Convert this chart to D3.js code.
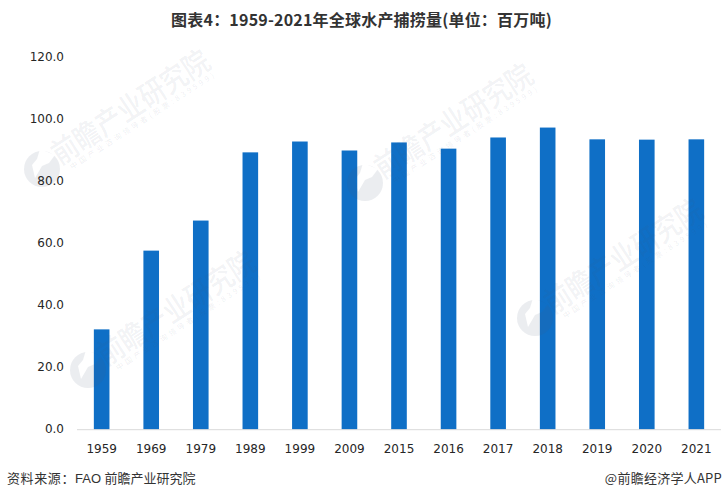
<!DOCTYPE html>
<html><head><meta charset="utf-8">
<script src="https://cdn.jsdelivr.net/npm/d3@7"></script>
<style>html,body{margin:0;padding:0;background:#fff}svg{display:block}</style>
</head><body><svg id="c" width="723" height="499"></svg>
<script>
const categories=["1959","1969","1979","1989","1999","2009","2015","2016","2017","2018","2019","2020","2021"];
const values=[32.3,57.7,67.4,89.4,92.9,90.0,92.6,90.6,94.2,97.4,93.6,93.5,93.6];
const yTicks=[0,20,40,60,80,100,120];
const watermarks=[[42,169],[365,183],[535,318],[88,370]];
const svg=d3.select("#c");
const font="'Noto Sans CJK SC','DejaVu Sans',sans-serif";
const x=d3.scaleBand().domain(categories).range([77,721]).paddingInner(0.685).paddingOuter(0.34);
const y=d3.scaleLinear().domain([0,120]).range([429.5,57.5]);

svg.selectAll("rect.bar").data(values).join("rect").attr("class","bar")
  .attr("x",(d,i)=>x(categories[i])).attr("width",x.bandwidth())
  .attr("y",d=>y(d)).attr("height",d=>y(0)-y(d)).attr("fill","#0f6fc6");

svg.append("line").attr("x1",77).attr("x2",721).attr("y1",y(0)+0.2).attr("y2",y(0)+0.2).attr("stroke","#d9d9d9").attr("stroke-width",1);

const defs=svg.append("defs");
const mask=defs.append("mask").attr("id","logoCut").attr("maskUnits","userSpaceOnUse")
  .attr("x",-25).attr("y",-25).attr("width",50).attr("height",50);
mask.append("rect").attr("x",-25).attr("y",-25).attr("width",50).attr("height",50).attr("fill","#fff");
mask.append("path").attr("d","M-2,-20L13,-14L7,-6L0,-3L-7,9L-10,-4L-5,-10Z").attr("fill","#000");

const wm=svg.append("g");
watermarks.forEach(([wx,wy])=>{
  wm.append("circle").attr("transform",`translate(${wx},${wy})`).attr("r",18)
    .attr("fill","#4a5a78").attr("fill-opacity",0.11).attr("mask","url(#logoCut)");
  const g=wm.append("g").attr("transform",`translate(${wx},${wy}) rotate(-33)`);
  g.append("text").attr("transform","translate(17,7) scale(1,1.15)").attr("font-family",font).attr("font-size",26).attr("font-weight",500)
    .attr("fill","#4a5a70").attr("fill-opacity",0.085).text("前瞻产业研究院");
  g.append("text").attr("x",25).attr("y",17).attr("font-family",font).attr("font-size",7.5)
    .attr("textLength",170).attr("lengthAdjust","spacing")
    .attr("fill","#4a5a70").attr("fill-opacity",0.1).text("中国产业咨询领导者(股票:839599)");
});

const yAxis=d3.axisLeft(y).tickValues(yTicks).tickFormat(d3.format(".1f")).tickSize(0).tickPadding(0);
const ya=svg.append("g").attr("transform","translate(64,-0.5)").call(yAxis);
ya.select(".domain").remove();
ya.selectAll("text").attr("font-family","'DejaVu Sans',sans-serif").attr("font-size",12).attr("fill","#262626");

const xAxis=d3.axisBottom(x).tickSize(0).tickPadding(0);
const xa=svg.append("g").attr("transform","translate(0,444)").call(xAxis);
xa.select(".domain").remove();
xa.selectAll("text").attr("font-family","'DejaVu Sans',sans-serif").attr("font-size",12).attr("fill","#262626");

svg.append("text").attr("x",361.5).attr("y",26).attr("text-anchor","middle").attr("font-family",font)
  .attr("font-size",16).attr("font-weight",700).attr("letter-spacing",0.2).attr("fill","#333").text("图表4：1959-2021年全球水产捕捞量(单位：百万吨)");
svg.append("text").attr("x",7).attr("y",483).attr("font-family",font).attr("font-size",13).attr("letter-spacing",0.6).attr("fill","#333").text("资料来源：");
svg.append("text").attr("x",75).attr("y",483).attr("font-family","'Liberation Sans',sans-serif").attr("font-size",13).attr("fill","#333").text("FAO");
svg.append("text").attr("x",104.5).attr("y",483).attr("font-family",font).attr("font-size",13).attr("fill","#333").text("前瞻产业研究院");
svg.append("text").attr("x",722).attr("y",483).attr("text-anchor","end").attr("font-family",font).attr("font-size",13).attr("letter-spacing",0.25).attr("fill","#333").text("@前瞻经济学人APP");
</script></body></html>
